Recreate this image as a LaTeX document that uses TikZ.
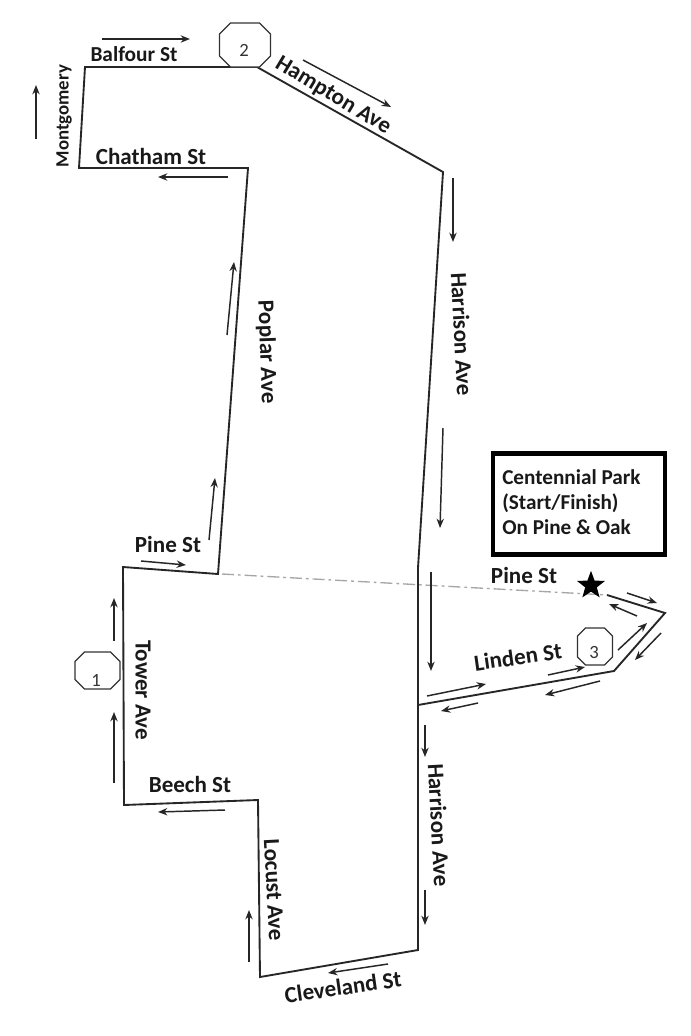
\documentclass[tikz,border=0pt]{standalone}
\usepackage{fontspec}
\setmainfont{Carlito}
\usetikzlibrary{arrows.meta,shapes.geometric}
\begin{document}
\begin{tikzpicture}[x=0.75pt,y=-0.75pt,
  road/.style={draw=black!85,line width=1.4pt,line join=miter},
  arr/.style={draw=black!85,line width=1.1pt,-{Stealth[length=7pt,width=5.5pt]}},
  lab/.style={font=\bfseries\fontsize{17.3}{19}\selectfont,text=black!90,inner sep=0pt},
  stopsign/.style={draw=black!80,line width=0.95pt,fill=white},
  num/.style={font=\fontsize{14}{16}\selectfont,text=black!80,inner sep=0pt}]
\useasboundingbox (0,0) rectangle (691,1036);
\fill[white] (0,0) rectangle (691,1036);
% route corners
\foreach \n/\p in {bal/{85,67},ham/{257,67},hat/{443,172},hab/{418,568},hac/{418,950},clv/{260,977},loc/{258,800},bee/{124,805},tow/{123,567},pin/{218,574},pop/{248,168},cha/{79,168},lia/{418,705},lib/{614,671},lic/{665,613},lid/{607,595},pna/{222,574}}
  {\coordinate (\n) at (\p);}
\draw[road] (bal) -- (ham) -- (hat) -- (hab) -- (hac) -- (clv) -- (loc) -- (bee) -- (tow) -- (pin) -- (pop) -- (cha) -- cycle;
\draw[road] (lia) -- (lib) -- (lic) -- (lid);
\draw[draw=black!35,line width=1pt,dash pattern=on 9pt off 3pt on 2pt off 3pt] (pna) -- (lid);
% direction arrows
\foreach \n/\a/\b in {
 a1/{102,39}/{190,39}, a2/{36,139}/{36,85}, a3/{303,60}/{391,107}, a4/{228,177}/{158,177},
 a5/{227,335}/{234,262}, a6/{209,540}/{215,478}, a7/{453,178}/{453,242}, a8/{443,428}/{440,528},
 a9/{431,572}/{431,671}, a10/{425,725}/{425,757}, a11/{425,890}/{425,925}, a12/{388,964}/{328,973},
 a13/{249,962}/{249,910}, a14/{225,810}/{158,812}, a15/{114,783}/{114,712}, a16/{114,641}/{114,598},
 a17/{141,561}/{186,565}, a18/{427,696}/{486,684}, a19/{548,675}/{585,667}, a20/{478,703}/{441,711},
 a21/{600,681}/{545,695}, a22/{618,650}/{647,623}, a23/{661,633}/{635,660}, a24/{627,593}/{657,603},
 a25/{637,616}/{609,604}}
 {\coordinate (\n s) at (\a); \coordinate (\n e) at (\b); \draw[arr] (\n s) -- (\n e);}
% stops: octagons given as centre / half width / half height / chamfer
\foreach \n/\c/\w/\h/\k in {stopa/{97.5,670.5}/22.5/18.5/9.5, stopb/{245,45}/25.5/22/11, stopc/{595,646.5}/17.5/18.5/8}{
  \coordinate (\n) at (\c);
  \draw[stopsign] ([shift={(-\w+\k,-\h)}]\n) -- ([shift={(\w-\k,-\h)}]\n) -- ([shift={(\w,-\h+\k)}]\n) -- ([shift={(\w,\h-\k)}]\n) -- ([shift={(\w-\k,\h)}]\n) -- ([shift={(-\w+\k,\h)}]\n) -- ([shift={(-\w,\h-\k)}]\n) -- ([shift={(-\w,-\h+\k)}]\n) -- cycle;
}
\node[num] (n2) at (244,50) {2};
\node[num] (n3) at (594,652) {3};
\node[num] (n1) at (96,680) {1};
% star
\node[star,star points=5,star point ratio=2.4,fill=black,inner sep=0pt,minimum size=22pt] (finish) at (591,585.5) {};
% park box
\node[draw=black,line width=3.6pt,minimum width=129pt,minimum height=76pt,inner sep=0pt] (parkbox) at (579,504) {};
\node[lab,align=left,anchor=west,font=\bfseries\fontsize{15.9}{18.7}\selectfont] (parktext) at (502,502) {Centennial Park\\(Start/Finish)\\On Pine \& Oak};
% labels
\node[lab,font=\bfseries\fontsize{16}{18}\selectfont] (l1) at (134,54) {Balfour St};
\node[lab,rotate=90,font=\bfseries\fontsize{14.1}{16}\selectfont] (l2) at (64,116) {Montgomery};
\node[lab] (l3) at (151,156) {Chatham St};
\node[lab,rotate=-31] (l4) at (333,96) {Hampton Ave};
\node[lab,rotate=-88] (l5) at (266.5,352) {Poplar Ave};
\node[lab,rotate=-87] (l6) at (462,334) {Harrison Ave};
\node[lab] (l7) at (168,544) {Pine St};
\node[lab] (l8) at (524,575) {Pine St};
\node[lab,rotate=-90] (l9) at (143,690) {Tower Ave};
\node[lab] (l10) at (190,784) {Beech St};
\node[lab,rotate=-87] (l11) at (274,890) {Locust Ave};
\node[lab,rotate=-87] (l12) at (439,825) {Harrison Ave};
\node[lab,rotate=8] (l13) at (343,987) {Cleveland St};
\node[lab,rotate=8] (l14) at (518,657) {Linden St};
\end{tikzpicture}
\end{document}
